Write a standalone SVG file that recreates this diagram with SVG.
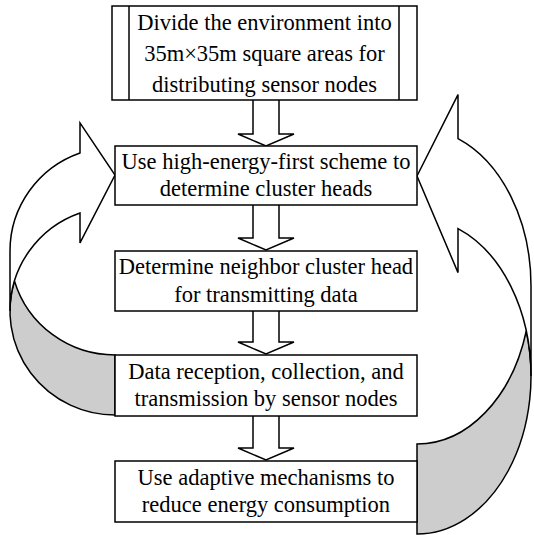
<svg xmlns="http://www.w3.org/2000/svg" width="534" height="535" viewBox="0 0 534 535">
  <style>
    .box { fill: #ffffff; stroke: #000000; stroke-width: 1.5; }
    .line { fill: none; stroke: #000000; stroke-width: 1.5; }
    .flow { fill: #ffffff; stroke: #000000; stroke-width: 1.5; stroke-linejoin: miter; }
    .band { fill: #ffffff; stroke: #000000; stroke-width: 1.5; stroke-linejoin: miter; }
    .back { fill: #cdcdcd; stroke: #000000; stroke-width: 1.5; stroke-linejoin: miter; }
    text { font-family: "Liberation Serif", "Times New Roman", serif; font-size: 22.5px; fill: #000000; text-anchor: middle; }
  </style>

  <!-- connectors: straight block arrows and the two curved feedback arrows -->
  <g id="connectors">
    <!-- left curved arrow: twisted ribbon from step 4 back to step 2 -->
    <g id="loop-left">
      <path class="back" d="M14.46,281 A105,104 0 0,0 115,415 L115,355 A105,104 0 0,1 14.46,281 Z"/>
      <path class="band" d="M10,251 A105,104 0 0,1 80,152.95 L80,122.95 L115,175 L80,242.95 L80,212.95 A105,104 0 0,0 10,311 Z"/>
    </g>
    <!-- right curved arrow: twisted ribbon from step 5 back to step 2 -->
    <g id="loop-right">
      <path class="back" d="M526.28,331 A114,158 0 0,1 417,534 L417,444 A114,158 0 0,0 526.28,331 Z"/>
      <path class="band" d="M531,286 A114,158 0 0,0 458,138.6 L458,94.6 L417,176 L458,272.6 L458,228.6 A114,158 0 0,1 531,376 Z"/>
    </g>
    <!-- downward block arrows between steps -->
    <path class="flow" d="M253,100 V134 H238 L266,146 L294,134 H279 V100"/>
    <path class="flow" d="M253,205 V238 H238 L266,250 L294,238 H279 V205"/>
    <path class="flow" d="M253,311 V342 H238 L266,354 L294,342 H279 V311"/>
    <path class="flow" d="M253,416 V448 H238 L266,460 L294,448 H279 V416"/>
  </g>

  <!-- step 1: predefined process box -->
  <g id="node-divide">
    <rect class="box" x="112" y="6" width="305" height="94"/>
    <line class="line" x1="129" y1="6" x2="129" y2="100"/>
    <line class="line" x1="399" y1="6" x2="399" y2="100"/>
    <text x="264.5" y="29.5">Divide the environment into</text>
    <text x="264.5" y="60.5">35m×35m square areas for</text>
    <text x="264.5" y="91.5">distributing sensor nodes</text>
  </g>

  <g id="node-cluster-heads">
    <rect class="box" x="115" y="146" width="302" height="59"/>
    <text x="266" y="168.5">Use high-energy-first scheme to</text>
    <text x="266" y="196">determine cluster heads</text>
  </g>

  <g id="node-neighbor">
    <rect class="box" x="115" y="251" width="302" height="60"/>
    <text x="266" y="274">Determine neighbor cluster head</text>
    <text x="266" y="301.5">for transmitting data</text>
  </g>

  <g id="node-data">
    <rect class="box" x="115" y="355" width="302" height="61"/>
    <text x="266" y="378.5">Data reception, collection, and</text>
    <text x="266" y="406">transmission by sensor nodes</text>
  </g>

  <g id="node-adaptive">
    <rect class="box" x="115" y="461" width="302" height="61"/>
    <text x="266" y="484.5">Use adaptive mechanisms to</text>
    <text x="266" y="512">reduce energy consumption</text>
  </g>
</svg>
